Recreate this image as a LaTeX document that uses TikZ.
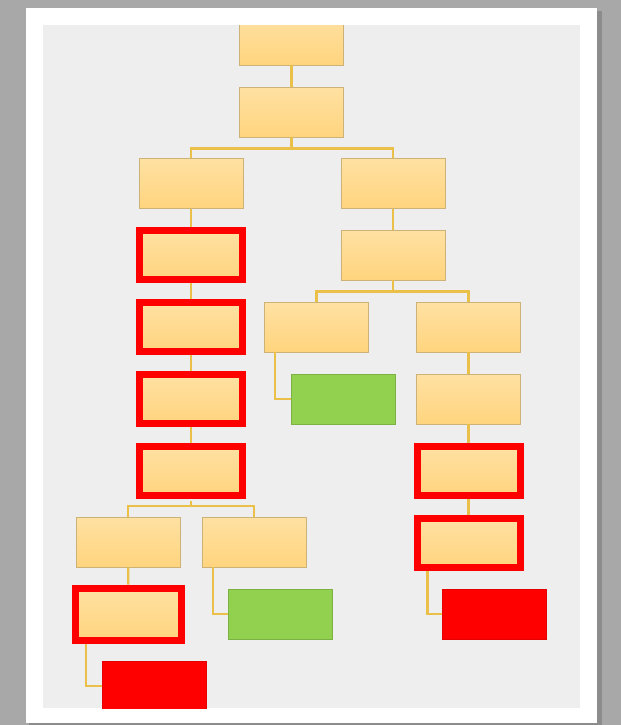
\documentclass[tikz,border=0pt]{standalone}
\usetikzlibrary{calc}
\definecolor{deskgray}{RGB}{168,168,168}
\definecolor{sheetgray}{RGB}{238,238,238}
\definecolor{boxtop}{RGB}{255,225,162}
\definecolor{boxbot}{RGB}{255,212,126}
\definecolor{boxline}{RGB}{205,178,120}
\definecolor{linkgold}{RGB}{234,192,72}
\definecolor{okgreen}{RGB}{146,208,80}
\definecolor{badred}{RGB}{255,0,0}
\tikzset{
  box/.style={draw=boxline,line width=0.4pt,top color=boxtop,bottom color=boxbot,
    minimum width=52pt,minimum height=25pt,inner sep=0pt},
  flagbox/.style={draw=badred,line width=3.5pt,top color=boxtop,bottom color=boxbot,
    minimum width=51.5pt,minimum height=24.5pt,inner sep=0pt},
  okbox/.style={draw=okgreen!85!black,line width=0.4pt,fill=okgreen,
    minimum width=52pt,minimum height=25pt,inner sep=0pt},
  failbox/.style={draw=badred!90!black,line width=0.4pt,fill=badred,
    minimum width=52pt,minimum height=25pt,inner sep=0pt},
  link/.style={draw=linkgold,line width=1.1pt}
}
\begin{document}
\begin{tikzpicture}[x=0.5pt,y=-0.5pt]
\useasboundingbox (0,0) rectangle (621,725);
\fill[deskgray] (0,0) rectangle (621,725);
\fill[black!45] (29,11) rectangle (602,727);
\fill[white] (26,8) rectangle (597,723);
\fill[sheetgray] (43,25) rectangle (580,708);
\begin{scope}
\clip (43,25) rectangle (580,708);
% trunk
\node[box] (b1) at (291.5,40) {};
\node[box] (b2) at (291.5,112) {};
\node[box] (b3l) at (191,183.5) {};
\node[box] (b3r) at (393,183.5) {};
% left branch
\node[flagbox] (r1) at (191,255) {};
\node[flagbox] (r2) at (191,327) {};
\node[flagbox] (r3) at (191,399) {};
\node[flagbox] (r4) at (191,471) {};
\node[box] (b7a) at (128,542) {};
\node[box] (b7b) at (254,542) {};
\node[flagbox,minimum width=53pt,minimum height=26pt] (r7) at (128.5,614) {};
\node[failbox] (s2) at (154,686) {};
\node[okbox] (g2) at (280,614) {};
% right branch
\node[box] (b4r) at (393,255) {};
\node[box] (b5a) at (316.5,327) {};
\node[box] (b5b) at (468.5,327) {};
\node[okbox] (g1) at (343,399) {};
\node[box] (b6b) at (468.5,399) {};
\node[flagbox] (r5) at (468.5,471) {};
\node[flagbox] (r6) at (468.5,543) {};
\node[failbox] (s1) at (494,614) {};
% connectors
\draw[link] (b1) -- (b2);
\draw[link] (b2.south) -- ++(0,11) -| (b3l.north);
\draw[link] (b2.south) -- ++(0,11) -| (b3r.north);
\draw[link] (b3l) -- (r1);
\draw[link] (r1) -- (r2);
\draw[link] (r2) -- (r3);
\draw[link] (r3) -- (r4);
\draw[link] (r4.south) ++(0,2) -- ++(0,5) -| (b7a.north);
\draw[link] (r4.south) ++(0,2) -- ++(0,5) -| (b7b.north);
\draw[link] (b7a) -- (r7);
\draw[link] ([xshift=7pt]r7.south west) |- (s2.west);
\draw[link] ([xshift=5.5pt]b7b.south west) |- (g2.west);
\draw[link] (b3r) -- (b4r);
\draw[link] (b4r.south) -- ++(0,11) -| (b5a.north);
\draw[link] (b4r.south) -- ++(0,11) -| (b5b.north);
\draw[link] ([xshift=5.5pt]b5a.south west) |- (g1.west);
\draw[link] (b5b) -- (b6b);
\draw[link] (b6b) -- (r5);
\draw[link] (r5) -- (r6);
\draw[link] ([xshift=7pt]r6.south west) |- (s1.west);
\end{scope}
\end{tikzpicture}
\end{document}
